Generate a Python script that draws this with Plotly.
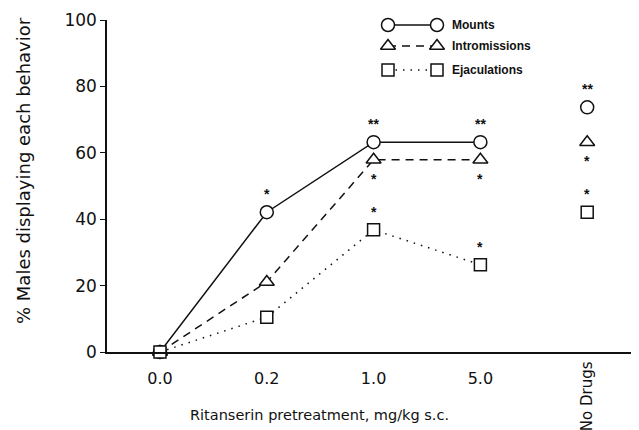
import plotly.graph_objects as go

# ---- data ----
doses = ["0.0", "0.2", "1.0", "5.0"]
nodrug_label = "No Drugs"
mounts = [0, 42.1, 63.2, 63.2]
intromissions = [0, 21.1, 57.9, 57.9]
ejaculations = [0, 10.5, 36.8, 26.3]
mounts_nd = 73.7
intromissions_nd = 63.2
ejaculations_nd = 42.1
sig_mounts = ["", "*", "**", "**"]
sig_intromissions = ["", "", "*", "*"]
sig_ejaculations = ["", "", "*", "*"]
sig_mounts_nd = "**"
sig_intromissions_nd = "*"
sig_ejaculations_nd = "*"

xpos = list(range(len(doses)))
xnd = len(doses)

INK = "#111111"
OFF = 8                      # page body margin offsets the figure by 8 px
W, H = 639 - OFF, 430 - OFF
X0, X1, Y0, Y1 = 107, 639, 20, 352   # plot area in window pixels
ML, MR = X0 - OFF, 639 - X1
MT, MB = Y0 - OFF, H - (Y1 - OFF)
PW, PH = X1 - X0, Y1 - Y0


def px(x):
    return (x - X0) / PW


def py(y):
    return (Y1 - y) / PH


fig = go.Figure()

series = [
    ("Mounts", mounts, mounts_nd, "circle", "solid", 13),
    ("Intromissions", intromissions, intromissions_nd, "triangle-up", "8px,6px", 13),
    ("Ejaculations", ejaculations, ejaculations_nd, "square", "1.5px,6px", 12),
]

for name, vals, nd, sym, dash, msz in series:
    fig.add_trace(go.Scatter(
        x=xpos, y=vals, mode="lines+markers", name=name, showlegend=False,
        line=dict(color=INK, width=1.5, dash=dash),
        marker=dict(symbol=sym, size=msz, color="white", line=dict(color=INK, width=1.5)),
        cliponaxis=False))
    fig.add_trace(go.Scatter(
        x=[xnd], y=[nd], mode="markers", showlegend=False,
        marker=dict(symbol=sym, size=msz, color="white", line=dict(color=INK, width=1.5)),
        cliponaxis=False))


# significance asterisks
def add_sig(xs, ys, sigs, shift):
    for x, y, s in zip(xs, ys, sigs):
        if s:
            fig.add_annotation(x=x, y=y, xref="x", yref="y", text=s, showarrow=False,
                               yshift=shift,
                               font=dict(family="Liberation Sans", size=14, color=INK, weight="bold"),
                               xanchor="center", yanchor="middle")


add_sig(xpos + [xnd], mounts + [mounts_nd], sig_mounts + [sig_mounts_nd], 18)
add_sig(xpos + [xnd], intromissions + [intromissions_nd], sig_intromissions + [sig_intromissions_nd], -19)
add_sig(xpos + [xnd], ejaculations + [ejaculations_nd], sig_ejaculations + [sig_ejaculations_nd], 18)

# ---- custom legend on a pixel-space overlay axis ----
leg_rows = [("Mounts", "circle", "solid", 13, 25),
            ("Intromissions", "triangle-up", "8px,6px", 13, 46),
            ("Ejaculations", "square", "1.5px,6px", 12, 70)]
for name, sym, dash, msz, yy in leg_rows:
    fig.add_trace(go.Scatter(
        x=[388, 437], y=[yy, yy], xaxis="x2", yaxis="y2", mode="lines+markers",
        showlegend=False, hoverinfo="skip",
        line=dict(color=INK, width=1.5, dash=dash),
        marker=dict(symbol=sym, size=msz, color="white", line=dict(color=INK, width=1.5)),
        cliponaxis=False))
    fig.add_annotation(x=px(450), y=py(yy), xref="paper", yref="paper", text=name, showarrow=False,
                       xanchor="left", yanchor="middle",
                       font=dict(family="Liberation Sans", size=12, color=INK, weight="bold"))

# axis titles and No Drugs label
fig.add_annotation(x=px(319), y=py(415), xref="paper", yref="paper",
                   text="Ritanserin pretreatment, mg/kg s.c.", showarrow=False,
                   xanchor="center", yanchor="middle",
                   font=dict(family="DejaVu Sans", size=14.5, color=INK))
fig.add_annotation(x=xnd, y=py(359), xref="x", yref="paper", text=nodrug_label, showarrow=False,
                   textangle=-90, xanchor="center", yanchor="top",
                   font=dict(family="DejaVu Sans", size=15, color=INK))
fig.add_annotation(x=px(23), y=py(171), xref="paper", yref="paper",
                   text="% Males displaying each behavior", showarrow=False,
                   textangle=-90, xanchor="center", yanchor="middle",
                   font=dict(family="DejaVu Sans", size=18, color=INK))

fig.update_layout(
    width=W, height=H,
    margin=dict(l=ML, r=MR, t=MT, b=MB, pad=0),
    paper_bgcolor="white", plot_bgcolor="white",
    xaxis=dict(range=[-0.496, 4.485], tickmode="array", tickvals=xpos, ticktext=doses,
               showgrid=False, zeroline=False, showline=True, linecolor=INK, linewidth=1.5,
               ticks="", ticklabelstandoff=11,
               tickfont=dict(family="DejaVu Sans", size=16, color=INK)),
    yaxis=dict(range=[0, 100], tickmode="array", tickvals=[0, 20, 40, 60, 80, 100],
               showgrid=False, zeroline=False, showline=True, linecolor=INK, linewidth=1.5,
               ticks="outside", ticklen=5, tickcolor=INK, tickwidth=1.2,
               tickfont=dict(family="DejaVu Sans", size=17, color=INK)),
    xaxis2=dict(overlaying="x", range=[X0, X1], visible=False),
    yaxis2=dict(overlaying="y", range=[Y1, Y0], visible=False),
)

fig.write_html("out.html")
